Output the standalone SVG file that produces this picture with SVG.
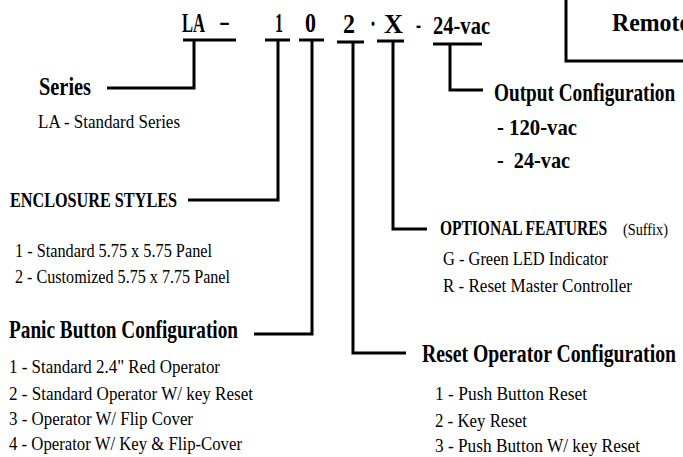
<svg xmlns="http://www.w3.org/2000/svg" width="683" height="457" viewBox="0 0 683 457">
<style>
text{font-family:"Liberation Serif","Times New Roman",serif;fill:#000}
.b{font-weight:bold}
.code{font-weight:bold;font-size:27px}
.h{font-weight:bold;font-size:25px}
.h2{font-weight:bold;font-size:21px}
.o{font-weight:bold;font-size:24px}
.t{font-size:19px}
.ln{fill:none;stroke:#000;stroke-width:3}
</style>
<rect width="683" height="457" fill="#fff"/>
<g id="remote-box">
<path class="ln" d="M566,-5 V61 H690"/>
<text x="612" y="31" class="b" font-size="26" textLength="78" lengthAdjust="spacingAndGlyphs">Remote</text>
</g>
<g id="code">
<text x="182" y="32" class="code" textLength="23" lengthAdjust="spacingAndGlyphs">LA</text>
<text x="219" y="30" class="code" textLength="11" lengthAdjust="spacingAndGlyphs">-</text>
<text x="275" y="32" class="code" textLength="8" lengthAdjust="spacingAndGlyphs">1</text>
<text x="305" y="32" class="code" textLength="11" lengthAdjust="spacingAndGlyphs">0</text>
<text x="343" y="33" class="code" textLength="12" lengthAdjust="spacingAndGlyphs">2</text>
<text x="370" y="33" class="code" textLength="6" lengthAdjust="spacingAndGlyphs">·</text>
<text x="384" y="33" class="code" textLength="19" lengthAdjust="spacingAndGlyphs">X</text>
<text x="416" y="33" class="code" font-size="22" textLength="5" lengthAdjust="spacingAndGlyphs">-</text>
<text x="433" y="34" class="b" font-size="25" textLength="57" lengthAdjust="spacingAndGlyphs">24-vac</text>
</g>
<g id="connectors">
<path class="ln" d="M183,40 H236 M194,40 V88 H107"/>
<path class="ln" d="M265,40 H290 M278,40 V200 H188"/>
<path class="ln" d="M299,40 H324 M312,40 V334 H254"/>
<path class="ln" d="M337,42 H364 M353,42 V353 H406"/>
<path class="ln" d="M377,41 H404 M393,41 V229 H427"/>
<path class="ln" d="M433,44 H482 M450,44 V90 H483"/>
</g>
<g id="series">
<text x="39" y="95" class="h" textLength="52" lengthAdjust="spacingAndGlyphs">Series</text>
<text x="38" y="128" class="t" textLength="142" lengthAdjust="spacingAndGlyphs">LA - Standard Series</text>
</g>
<g id="enclosure">
<text x="10" y="207" class="h2" textLength="167" lengthAdjust="spacingAndGlyphs">ENCLOSURE  STYLES</text>
<text x="15" y="257" class="t" textLength="197" lengthAdjust="spacingAndGlyphs">1 - Standard 5.75 x 5.75 Panel</text>
<text x="15" y="283" class="t" textLength="215" lengthAdjust="spacingAndGlyphs">2 - Customized 5.75 x 7.75 Panel</text>
</g>
<g id="panic">
<text x="9" y="338" class="h" textLength="229" lengthAdjust="spacingAndGlyphs">Panic Button Configuration</text>
<text x="9" y="373" class="t" textLength="211" lengthAdjust="spacingAndGlyphs">1 - Standard 2.4" Red Operator</text>
<text x="9" y="400" class="t" textLength="244" lengthAdjust="spacingAndGlyphs">2 - Standard Operator W/ key Reset</text>
<text x="9" y="425" class="t" textLength="184" lengthAdjust="spacingAndGlyphs">3 - Operator W/ Flip Cover</text>
<text x="9" y="450" class="t" textLength="233" lengthAdjust="spacingAndGlyphs">4 - Operator W/ Key &amp; Flip-Cover</text>
</g>
<g id="optional">
<text transform="translate(440,235) scale(0.775,1)" class="b" font-size="20">OPTIONAL FEATURES</text>
<text x="623" y="235" font-size="16" textLength="45" lengthAdjust="spacingAndGlyphs">(Suffix)</text>
<text x="443" y="265" class="t" textLength="165" lengthAdjust="spacingAndGlyphs">G - Green LED Indicator</text>
<text x="443" y="292" class="t" textLength="189" lengthAdjust="spacingAndGlyphs">R - Reset Master Controller</text>
</g>
<g id="reset">
<text transform="translate(422,362) scale(0.79,1)" class="h">Reset Operator Configuration</text>
<text x="435" y="400" class="t" textLength="152" lengthAdjust="spacingAndGlyphs">1 - Push Button Reset</text>
<text x="435" y="427" class="t" textLength="92" lengthAdjust="spacingAndGlyphs">2 - Key Reset</text>
<text x="435" y="452" class="t" textLength="205" lengthAdjust="spacingAndGlyphs">3 - Push Button W/ key Reset</text>
</g>
<g id="output">
<text transform="translate(494,101) scale(0.77,1)" class="h">Output Configuration</text>
<text x="497" y="135" class="o" textLength="80" lengthAdjust="spacingAndGlyphs">- 120-vac</text>
<text x="497" y="168" class="o" xml:space="preserve" textLength="73" lengthAdjust="spacingAndGlyphs">-  24-vac</text>
</g>
</svg>
